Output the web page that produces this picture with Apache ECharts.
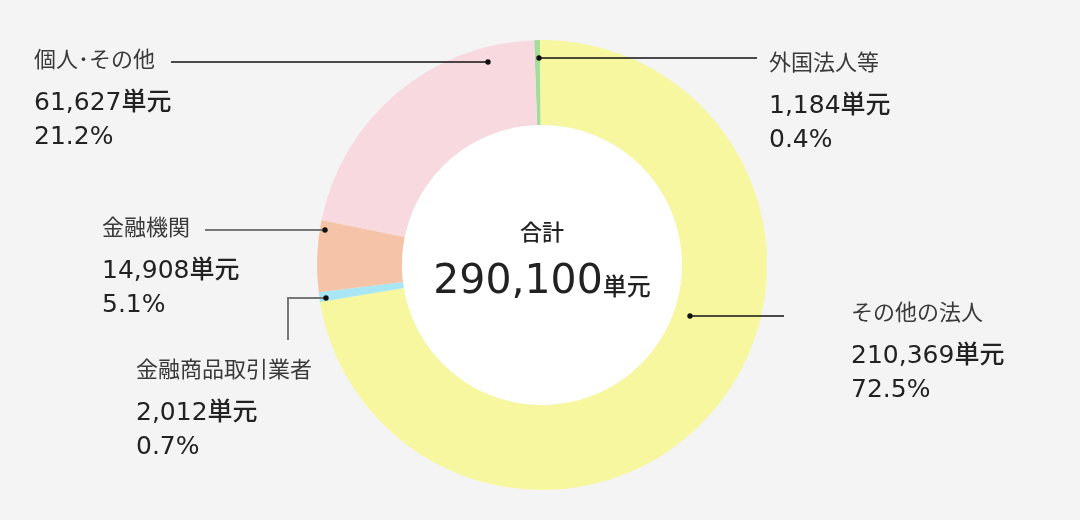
<!DOCTYPE html>
<html>
<head>
<meta charset="utf-8">
<script src="https://cdn.jsdelivr.net/npm/echarts@6/dist/echarts.min.js"></script>
<style>
  html, body { margin: 0; padding: 0; background: #f4f4f4; }
  #main { width: 1080px; height: 520px; }
</style>
</head>
<body>
<div id="main"></div>
<script>
// 所有者別の単元数
const names = ['外国法人等', 'その他の法人', '金融商品取引業者', '金融機関', '個人･その他']
const values = [1184, 210369, 2012, 14908, 61627]
const unit = '単元'
const totalLabel = '合計'

const colors = ['#a3dc9c', '#f7f79f', '#a8e6f3', '#f5c4a8', '#f9d9e0']
const lineColors = ['#111', '#111', '#777', '#777', '#111']
const lineWidths = [1.4, 1.4, 2, 2, 1.4]

// ラベルの左端と名前の中心 y、引き出し線（スライス側 → ラベル側）
const labelPos = [[769, 62], [851, 312], [136, 369], [102, 227], [34, 59]]
const linePoints = [
  [[539, 58], [757, 58]],
  [[690, 316], [784, 316]],
  [[326, 298], [288, 298], [288, 340]],
  [[325, 230], [205, 230]],
  [[488, 62], [171, 62]]
]

const total = values.reduce((s, v) => s + v, 0)
const jpFont = "'Noto Sans CJK JP', sans-serif"
const numFont = "'DejaVu Sans', 'Noto Sans CJK JP', sans-serif"
const fmt = v => v.toLocaleString('en-US')

const chart = echarts.init(document.getElementById('main'))

// 引き出し線と先端の点
const guides = []
linePoints.forEach((p, i) => {
  guides.push({
    type: 'polyline',
    z: 100,
    silent: true,
    shape: { points: p },
    style: { stroke: lineColors[i], lineWidth: lineWidths[i], fill: null }
  })
  guides.push({
    type: 'circle',
    z: 101,
    silent: true,
    shape: { cx: p[0][0], cy: p[0][1], r: 2.7 },
    style: { fill: '#111' }
  })
})

const option = {
  backgroundColor: '#f4f4f4',
  animation: false,
  graphic: guides,
  series: [
    {
      type: 'pie',
      center: [542, 265],
      radius: [140, 225],
      startAngle: 92,
      clockwise: true,
      avoidLabelOverlap: false,
      itemStyle: { borderWidth: 0 },
      emphasis: { disabled: true },
      data: names.map((name, i) => ({
        name,
        value: values[i],
        itemStyle: { color: colors[i] }
      })),
      label: {
        show: true,
        position: 'outside',
        formatter: p => {
          const pct = (p.value / total * 100).toFixed(1)
          return `{n|${p.name}}\n{v|${fmt(p.value)}${unit}}\n{v|${pct}%}`
        },
        rich: {
          n: { fontFamily: jpFont, fontSize: 22, color: '#3a3a3a', lineHeight: 54 },
          v: { fontFamily: numFont, fontSize: 25, fontWeight: 500, color: '#222', lineHeight: 34 }
        }
      },
      labelLine: { show: false },
      labelLayout: params => {
        const i = params.dataIndex
        return {
          x: labelPos[i][0],
          y: labelPos[i][1] - 27,
          align: 'left',
          verticalAlign: 'top',
          hideOverlap: false
        }
      }
    },
    {
      type: 'pie',
      center: [542, 265],
      radius: [0, 140],
      silent: true,
      emphasis: { disabled: true },
      data: [{ name: totalLabel, value: total, itemStyle: { color: '#fff' } }],
      labelLine: { show: false },
      label: {
        show: true,
        position: 'center',
        formatter: () => `{t|${totalLabel}}\n{n|${fmt(total)}}{u|${unit}}`,
        rich: {
          t: { fontFamily: jpFont, fontSize: 22, fontWeight: 500, color: '#222', lineHeight: 34 },
          n: { fontFamily: numFont, fontSize: 41, color: '#222', lineHeight: 66 },
          u: { fontFamily: jpFont, fontSize: 24, fontWeight: 500, color: '#222', height: 58, verticalAlign: 'bottom' }
        }
      }
    }
  ]
}

chart.setOption(option)
</script>
</body>
</html>
